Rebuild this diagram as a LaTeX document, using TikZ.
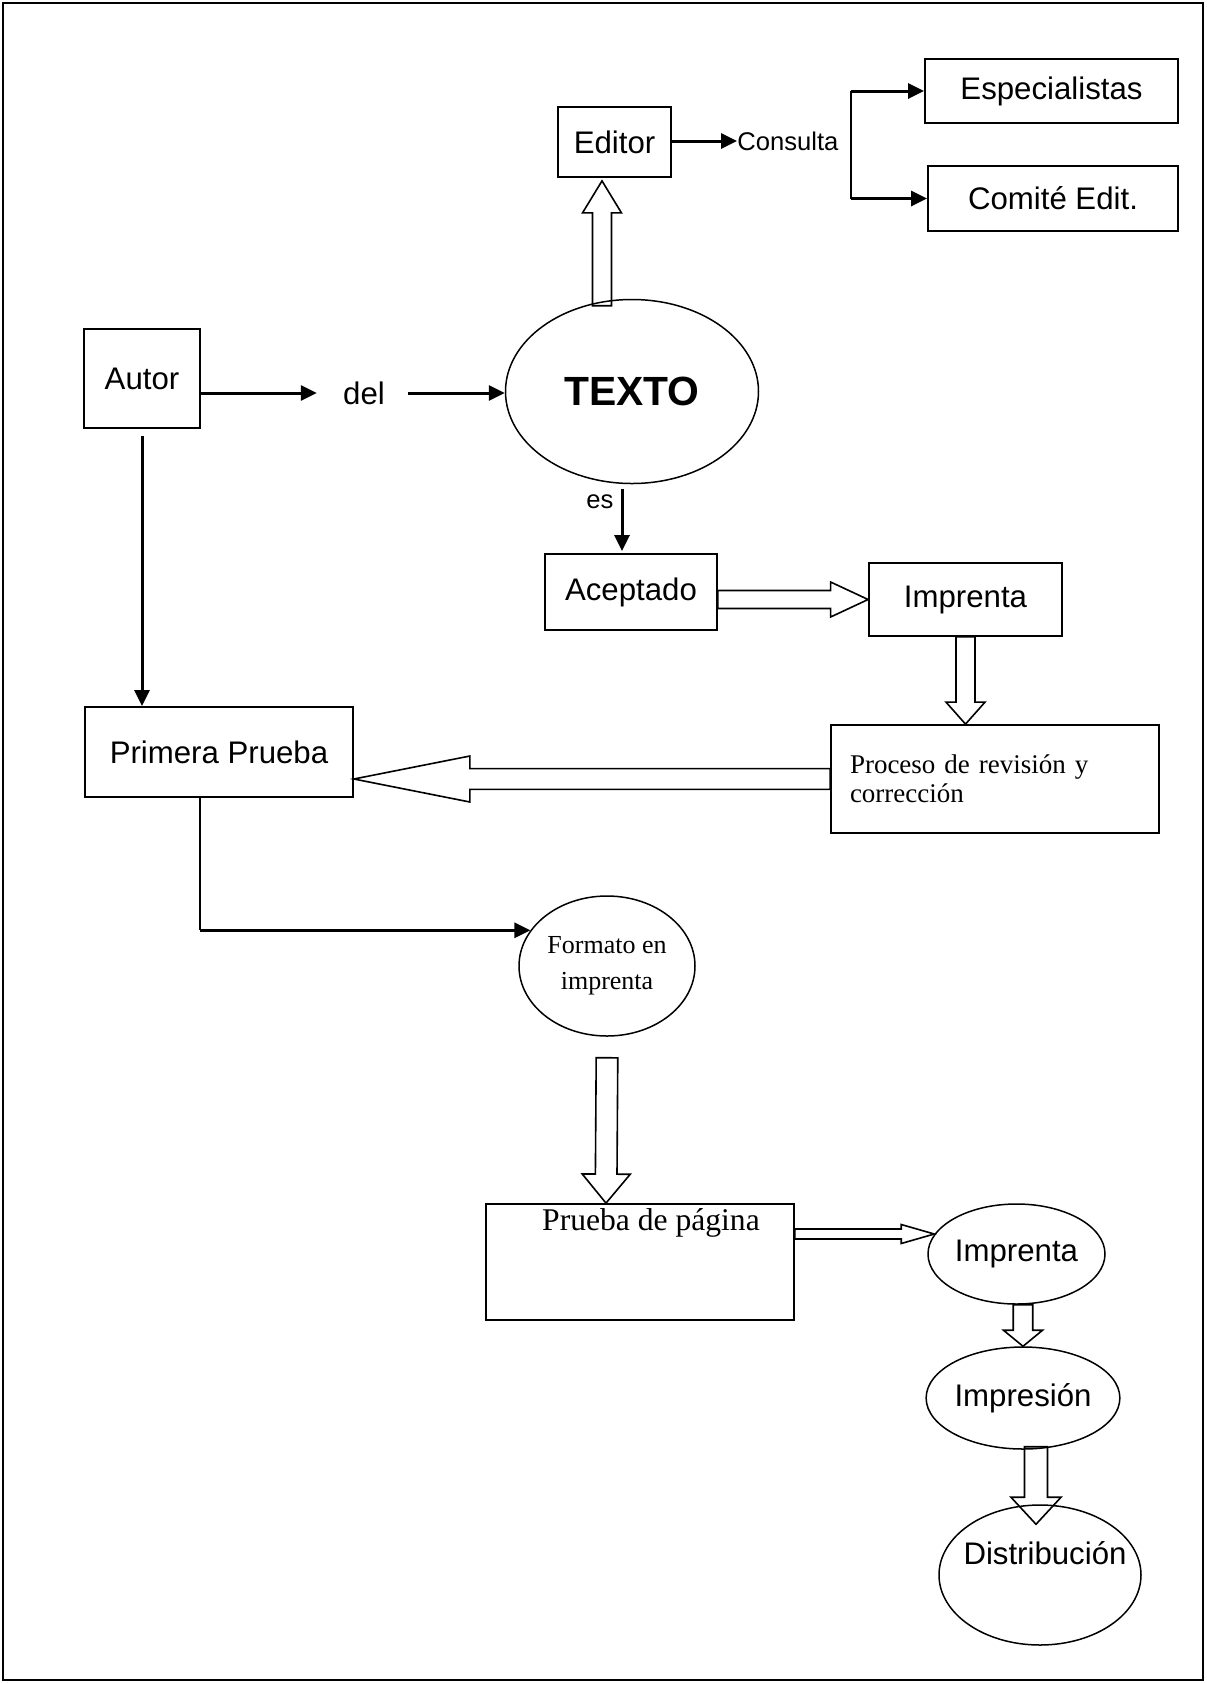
\documentclass[tikz,border=0pt]{standalone}
\usepackage{fontspec}
\setmainfont{Liberation Serif}
\setsansfont{Liberation Sans}
\usetikzlibrary{positioning,calc,shapes.geometric,arrows.meta}

% hollow block arrow: start, tip, shaft half width, head half width, head length
\newcommand{\fatarrow}[5]{%
  \draw[fat] let \p1=($(#2)-(#1)$), \n1={veclen(\x1,\y1)-#5} in
    ($(#1)!#3!90:(#2)$) -- ($(#1)!\n1!(#2)!#3!90:(#2)$)
    -- ($(#1)!\n1!(#2)!#4!90:(#2)$) -- (#2)
    -- ($(#1)!\n1!(#2)!#4!-90:(#2)$) -- ($(#1)!\n1!(#2)!#3!-90:(#2)$)
    -- ($(#1)!#3!-90:(#2)$) -- cycle;}

\begin{document}
\begin{tikzpicture}[x=0.5pt,y=-0.5pt]
  % Publishing flow of a text: author, editor, printer, distribution.
  \tikzset{box/.style={draw,line width=0.9pt,rectangle,inner sep=0pt,
                       font=\sffamily\fontsize{15.6}{18}\selectfont},
           oval/.style={draw,line width=0.75pt,ellipse,inner sep=0pt,
                        font=\sffamily\fontsize{15.6}{18}\selectfont},
           sans/.style={font=\sffamily\fontsize{15.6}{18}\selectfont,inner sep=0pt},
           smalltext/.style={font=\sffamily\fontsize{12.8}{15}\selectfont,inner sep=0pt},
           serif/.style={font=\rmfamily\fontsize{15.8}{17.5}\selectfont,inner sep=0pt},
           link/.style={line width=1.5pt,-{Triangle[length=8pt,width=7.5pt]}},
           thinline/.style={line width=0.7pt},
           fat/.style={line width=0.8pt,line join=miter}}
  \useasboundingbox (0,0) rectangle (1206,1683);
  \draw[line width=1pt] (3,3) rectangle (1203,1680);

  \node[box,minimum width=56.5pt,minimum height=35pt] (editor) at (614.5,142) {Editor};
  \node[smalltext,anchor=west] (consulta) at (737,141) {Consulta};
  \node[box,minimum width=126.5pt,minimum height=32pt] (espec) at (1051.5,91) {Especialistas};
  \node[box,minimum width=125pt,minimum height=32.5pt] (comite) at (1053,198.5) {Comité Edit.};
  \node[box,minimum width=58pt,minimum height=49.5pt] (autor) at (142,378.5) {Autor};
  \node[sans] (del) at (364,393) {del};
  \node[oval,minimum width=126.5pt,minimum height=92pt,
        font=\sffamily\bfseries\fontsize{20.4}{24}\selectfont] (texto) at (632,391.5) {TEXTO};
  \node[box,minimum width=86pt,minimum height=38pt] (aceptado) at (631,592) {Aceptado};
  \node[box,minimum width=96.5pt,minimum height=36.5pt] (imprenta) at (965.5,599.5) {Imprenta};
  \node[box,minimum width=134pt,minimum height=45pt] (primera) at (219,752) {Primera Prueba};
  \node[box,font=\rmfamily\fontsize{13.5}{14.5}\selectfont,text width=145pt,align=left,
        inner xsep=9.5pt,minimum height=54pt] (proceso) at (995,779)
        {Proceso de revisión y\\corrección};
  \node[oval,font=\rmfamily\fontsize{13}{18}\selectfont,align=center,
        minimum width=88pt,minimum height=70pt] (formato) at (607,966) {Formato en\\imprenta};
  \node[box,minimum width=154pt,minimum height=58pt] (prueba) at (640,1262) {};
  \node[serif,below=2.5pt of prueba.north,xshift=5.5pt] (pruebatext) {Prueba de página};
  \node[oval,minimum width=88.5pt,minimum height=50pt] (imprentaB) at (1016.5,1254) {Imprenta};
  \node[oval,minimum width=95pt,minimum height=51pt] (impresion) at (1023,1398) {Impresión};
  \node[oval,minimum width=101pt,minimum height=70pt] (distrib) at (1040,1575) {};
  \node[sans] (distribtext) at ([xshift=2.5pt,yshift=11pt]distrib.center) {Distribución};

  % plain arrows
  \draw[link] (editor.east |- consulta.west) -- (consulta.west);
  \coordinate (brtop) at (851,91);
  \coordinate (brbot) at (851,198.5);
  \draw[thinline] (brtop) -- (brbot);
  \draw[link] (brtop) -- (brtop -| espec.west);
  \draw[link] (brbot) -- (brbot -| comite.west);
  \draw[link] (autor.east |- del.west) -- ([xshift=-13pt]del.west);
  \draw[link] ([xshift=11.5pt]del.east) -- (texto.west |- del.east);
  \coordinate (esTop) at ([xshift=-5pt,yshift=-2.25pt]texto.south);
  \draw[link,shorten >=1pt] (esTop) -- (esTop |- aceptado.north)
    node[smalltext,pos=0.2,left=3.5pt] (es) {es};
  \draw[link] ([yshift=-3.5pt]autor.south) -- (autor.south |- primera.north);
  \coordinate (bend) at ([xshift=-9.5pt]primera.south |- formato.155);
  \draw[thinline] (bend |- primera.south) -- (bend);
  \draw[link] (bend) -- (formato.155);

  % hollow arrows
  \coordinate (upA) at ([xshift=-15pt,yshift=-3.5pt]texto.north);
  \coordinate (upB) at ([xshift=-6.25pt,yshift=-1.5pt]editor.south);
  \fatarrow{upA}{upB}{4.75pt}{9.75pt}{16pt}
  \fatarrow{aceptado.east |- imprenta.west}{imprenta.west}{4.5pt}{8.75pt}{18.75pt}
  \fatarrow{imprenta.south}{imprenta.south |- proceso.north}{4.75pt}{9.75pt}{11pt}
  \fatarrow{proceso.west}{primera.east |- proceso.west}{5.2pt}{11.5pt}{58pt}
  \coordinate (dnA) at ([yshift=-10.5pt]formato.south);
  \coordinate (dnB) at ([xshift=-17pt]prueba.north);
  \fatarrow{dnA}{dnB}{5.4pt}{12pt}{14.5pt}
  \coordinate (pA) at ([yshift=14pt]prueba.east);
  \coordinate (pB0) at (pA -| imprentaB.west);
  \coordinate (pB) at ([xshift=3.5pt]pB0);
  \fatarrow{pA}{pB}{2.5pt}{4.75pt}{16.5pt}
  \fatarrow{impresion.north |- imprentaB.south}{impresion.north}{4.875pt}{9.75pt}{8pt}
  \coordinate (dsA) at ([xshift=6.5pt,yshift=1.5pt]impresion.south);
  \coordinate (dsB) at ([xshift=-2pt,yshift=-10pt]distrib.north);
  \fatarrow{dsA}{dsB}{5.75pt}{12.5pt}{13.5pt}
\end{tikzpicture}
\end{document}
